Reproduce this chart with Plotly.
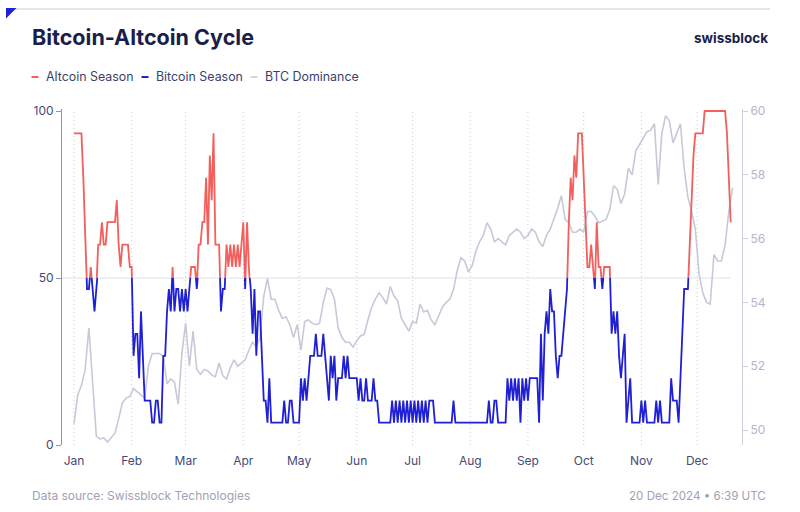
import plotly.graph_objects as go
import pandas as pd

# ---------------- data ----------------
# Bitcoin-Altcoin cycle index, daily from 2024-01-01
season = [
    93.3, 93.3, 93.3, 93.3, 93.3, 80, 60, 46.7, 46.7, 53.3,
    46.7, 40, 46.7, 60, 60, 66.7, 60, 60, 66.7, 66.7,
    66.7, 66.7, 66.7, 73.3, 60, 53.3, 60, 60, 60, 60,
    53.3, 53.3, 26.7, 33.3, 33.3, 20, 40, 26.7, 13.3, 13.3,
    13.3, 13.3, 6.7, 6.7, 13.3, 13.3, 6.7, 6.7, 26.7, 26.7,
    40, 46.7, 40, 53.3, 40, 46.7, 46.7, 40, 46.7, 40,
    46.7, 40, 46.7, 53.3, 53.3, 53.3, 46.7, 60, 60, 66.7,
    66.7, 80, 60, 86.7, 73.3, 93.3, 60, 60, 60, 40,
    46.7, 46.7, 60, 53.3, 60, 53.3, 60, 53.3, 60, 53.3,
    60, 66.7, 46.7, 66.7, 53.3, 46.7, 33.3, 46.7, 26.7, 40,
    40, 26.7, 13.3, 13.3, 6.7, 20, 6.7, 6.7, 6.7, 6.7,
    6.7, 6.7, 6.7, 13.3, 6.7, 6.7, 13.3, 13.3, 6.7, 6.7,
    6.7, 6.7, 20, 13.3, 20, 13.3, 20, 26.7, 26.7, 26.7,
    33.3, 26.7, 26.7, 26.7, 33.3, 26.7, 20, 13.3, 26.7, 20,
    26.7, 13.3, 20, 20, 20, 26.7, 20, 26.7, 20, 20,
    20, 20, 20, 13.3, 20, 13.3, 13.3, 20, 13.3, 13.3,
    13.3, 20, 13.3, 13.3, 6.7, 6.7, 6.7, 6.7, 6.7, 6.7,
    6.7, 13.3, 6.7, 13.3, 6.7, 13.3, 6.7, 13.3, 6.7, 13.3,
    6.7, 13.3, 6.7, 13.3, 6.7, 13.3, 6.7, 13.3, 6.7, 13.3,
    6.7, 13.3, 13.3, 13.3, 6.7, 6.7, 6.7, 6.7, 6.7, 6.7,
    6.7, 6.7, 6.7, 6.7, 13.3, 6.7, 6.7, 6.7, 6.7, 6.7,
    6.7, 6.7, 6.7, 6.7, 6.7, 6.7, 6.7, 6.7, 6.7, 6.7,
    6.7, 6.7, 6.7, 13.3, 6.7, 6.7, 13.3, 13.3, 6.7, 6.7,
    6.7, 6.7, 6.7, 20, 13.3, 20, 13.3, 20, 13.3, 20,
    6.7, 20, 13.3, 20, 13.3, 20, 20, 20, 20, 20,
    6.7, 33.3, 13.3, 33.3, 40, 33.3, 46.7, 40, 40, 26.7,
    20, 26.7, 26.7, 33.3, 40, 46.7, 66.7, 80, 73.3, 86.7,
    80, 93.3, 93.3, 93.3, 80, 66.7, 53.3, 53.3, 60, 53.3,
    46.7, 66.7, 53.3, 53.3, 46.7, 53.3, 53.3, 53.3, 53.3, 33.3,
    40, 33.3, 40, 26.7, 20, 26.7, 33.3, 6.7, 13.3, 20,
    6.7, 6.7, 6.7, 6.7, 6.7, 13.3, 6.7, 13.3, 6.7, 6.7,
    6.7, 6.7, 6.7, 13.3, 6.7, 13.3, 6.7, 6.7, 6.7, 6.7,
    6.7, 20, 13.3, 13.3, 13.3, 6.7, 20, 33.3, 46.7, 46.7,
    46.7, 60, 73.3, 86.7, 93.3, 93.3, 93.3, 93.3, 93.3, 100,
    100, 100, 100, 100, 100, 100, 100, 100, 100, 100,
    100, 93.3, 80, 66.7,
]

# BTC dominance (%), every second day from 2024-01-01
dominance = [
    50.2, 51.1, 51.4, 51.9, 53.2, 51.6, 49.8, 49.72, 49.75, 49.62,
    49.75, 49.9, 50.35, 50.85, 51.0, 51.05, 51.3, 51.2, 51.1, 51.0,
    52.0, 52.4, 52.4, 52.4, 52.3, 51.45, 51.6, 51.5, 50.8, 52.4,
    53.35, 52.0, 53.1, 51.9, 51.75, 51.9, 51.85, 51.72, 51.67, 52.1,
    51.7, 51.6, 51.95, 52.2, 52.0, 52.1, 52.2, 52.5, 52.75, 52.6,
    52.9, 54.2, 54.75, 54.1, 54.1, 53.75, 53.5, 53.55, 53.3, 52.9,
    53.3, 52.5, 53.4, 53.45, 53.35, 53.3, 53.35, 54.0, 54.45, 54.4,
    54.1, 53.2, 52.9, 52.75, 52.75, 52.6, 52.8, 52.95, 53.0, 53.45,
    53.85, 54.1, 54.3, 54.15, 53.95, 54.5, 54.2, 54.05, 53.5, 53.3,
    53.1, 53.4, 53.35, 53.95, 53.7, 53.75, 53.45, 53.3, 53.55, 53.85,
    54.0, 54.1, 54.4, 55.0, 55.4, 55.3, 54.95, 55.15, 55.6, 55.9,
    56.1, 56.5, 56.3, 55.9, 56.0, 55.9, 55.8, 56.1, 56.2, 56.3,
    56.2, 56.0, 56.1, 56.3, 56.2, 55.9, 55.75, 56.1, 56.3, 56.6,
    56.95, 57.35, 56.6, 56.5, 56.2, 56.2, 56.3, 56.2, 56.85, 56.85,
    56.7, 56.5, 56.55, 56.6, 56.9, 57.65, 57.55, 57.1, 57.4, 58.2,
    58.0, 58.75, 58.95, 59.15, 59.35, 59.4, 59.6, 57.7, 59.3, 59.85,
    59.7, 59.0, 59.3, 59.6, 58.2, 57.3, 56.85, 56.3, 54.9, 54.3,
    54.0, 53.95, 55.5, 55.3, 55.3, 55.8, 56.85, 57.6,
]

month_labels = ["Jan", "Feb", "Mar", "Apr", "May", "Jun",
                "Jul", "Aug", "Sep", "Oct", "Nov", "Dec"]
left_ticks = [0, 50, 100]
right_ticks = [50, 52, 54, 56, 58, 60]

season_dates = pd.date_range("2024-01-01", periods=len(season), freq="D")
dom_dates = pd.date_range("2024-01-01", periods=len(dominance), freq="2D")
month_starts = pd.date_range("2024-01-01", periods=12, freq="MS")

# ---------------- layout geometry ----------------
W, H = 800, 512
L, R, T, B = 62, 58, 109, 67
PW, PH = W - L - R, H - T - B
Y_TOP = 100.6
SPLIT = 50 / Y_TOP
X_RANGE = ["2023-12-25 13:00", "2024-12-25 02:00"]

def px(x):
    return (x - L) / PW

def py(y):
    return (H - B - y) / PH

FONT = "Inter"
NAVY = "#1b1e4b"
RED = "#f25f5c"
BLUE = "#1f1fd3"
GRAY = "#c7c9d8"

fig = go.Figure()

# placeholder on main axes so the left axis subplot exists
fig.add_trace(go.Scatter(x=[season_dates[0]], y=[None], xaxis="x", yaxis="y",
                         mode="lines", showlegend=False, hoverinfo="skip"))

fig.add_trace(go.Scatter(x=dom_dates, y=dominance, xaxis="x", yaxis="y2",
                         mode="lines", line=dict(color=GRAY, width=1.6),
                         name="BTC Dominance", showlegend=False))

fig.add_trace(go.Scatter(x=season_dates, y=season, xaxis="x", yaxis="y3",
                         mode="lines", line=dict(color=RED, width=1.8),
                         name="Altcoin Season", showlegend=False))

fig.add_trace(go.Scatter(x=season_dates, y=season, xaxis="x", yaxis="y4",
                         mode="lines", line=dict(color=BLUE, width=1.8),
                         name="Bitcoin Season", showlegend=False))

tickfont_dark = dict(family=FONT, size=12, color="#454a78")

fig.update_layout(
    width=W, height=H,
    margin=dict(l=L, r=R, t=T, b=B, pad=0),
    paper_bgcolor="white", plot_bgcolor="rgba(0,0,0,0)",
    font=dict(family=FONT, color=NAVY),
    xaxis=dict(type="date", range=X_RANGE, tickvals=month_starts, ticktext=month_labels,
               showgrid=False, ticks="outside", ticklen=5, tickcolor="rgba(0,0,0,0)",
               showline=False, zeroline=False, tickfont=tickfont_dark),
    yaxis=dict(range=[0, Y_TOP], tickvals=left_ticks, showgrid=False, zeroline=False,
               showline=True, linecolor="#9093b2", linewidth=1,
               ticks="outside", ticklen=5, tickcolor="#9093b2",
               tickfont=tickfont_dark),
    yaxis2=dict(range=[49.53, 60.063], tickvals=right_ticks, overlaying="y", side="right",
                showgrid=False, zeroline=False, showline=True, linecolor="#cfd0dc",
                linewidth=1, ticks="outside", ticklen=5, tickcolor="#cfd0dc",
                tickfont=dict(family=FONT, size=12, color="#b3b5c7")),
    yaxis3=dict(domain=[SPLIT, 1], range=[50, Y_TOP], visible=False, anchor="x"),
    yaxis4=dict(domain=[0, SPLIT], range=[0, 50], visible=False, anchor="x"),
)

shapes = []
# dotted month gridlines
for m in month_starts:
    shapes.append(dict(type="line", xref="x", yref="paper", x0=m, x1=m, y0=0, y1=1,
                       line=dict(color="#c9cbd8", width=1, dash="1px,3px"), layer="below"))
shapes += [
    # 50 reference line
    dict(type="line", xref="x", yref="y", x0=X_RANGE[0], x1=season_dates[-1],
         y0=50, y1=50, line=dict(color="#e1e2ea", width=1.2), layer="below"),
    # top rule
    dict(type="line", xref="paper", yref="paper", x0=px(15), x1=px(770),
         y0=py(9), y1=py(9), line=dict(color="#dcdde8", width=1.5)),
    # corner triangle
    dict(type="path", xref="paper", yref="paper",
         path=f"M {px(6)},{py(8)} L {px(16.5)},{py(8)} L {px(6)},{py(18.5)} Z",
         fillcolor="#1f1fe0", line=dict(width=0)),
]

legend_items = [("Altcoin Season", RED, 31.5), ("Bitcoin Season", BLUE, 141.5),
                ("BTC Dominance", "#d3d5e0", 250.5)]
annotations = [
    dict(text="<b>Bitcoin-Altcoin Cycle</b>", x=px(29.5), y=py(37), xref="paper", yref="paper",
         xanchor="left", yanchor="middle", showarrow=False,
         font=dict(family=FONT, size=21.5, color=NAVY)),
    dict(text="<b>swissblock</b>", x=px(770), y=py(38), xref="paper", yref="paper",
         xanchor="right", yanchor="middle", showarrow=False,
         font=dict(family=FONT, size=13.5, color=NAVY)),
    dict(text="Data source: Swissblock Technologies", x=px(30), y=py(496),
         xref="paper", yref="paper", xanchor="left", yanchor="middle", showarrow=False,
         font=dict(family=FONT, size=12, color="#9fa2b5")),
    dict(text="20 Dec 2024 • 6:39 UTC", x=px(768), y=py(496),
         xref="paper", yref="paper", xanchor="right", yanchor="middle", showarrow=False,
         font=dict(family=FONT, size=11.6, color="#9fa2b5")),
]
for label, color, x0 in legend_items:
    shapes.append(dict(type="line", xref="paper", yref="paper", x0=px(x0), x1=px(x0 + 7),
                       y0=py(77), y1=py(77), line=dict(color=color, width=2)))
    annotations.append(dict(text=label, x=px(x0 + 12.5), y=py(77), xref="paper", yref="paper",
                            xanchor="left", yanchor="middle", showarrow=False,
                            font=dict(family=FONT, size=12.4, color="#3b3f6b")))

fig.update_layout(shapes=shapes, annotations=annotations)

fig.write_html("out.html", config={"displayModeBar": False},
               post_script="document.body.style.margin='0px';")
